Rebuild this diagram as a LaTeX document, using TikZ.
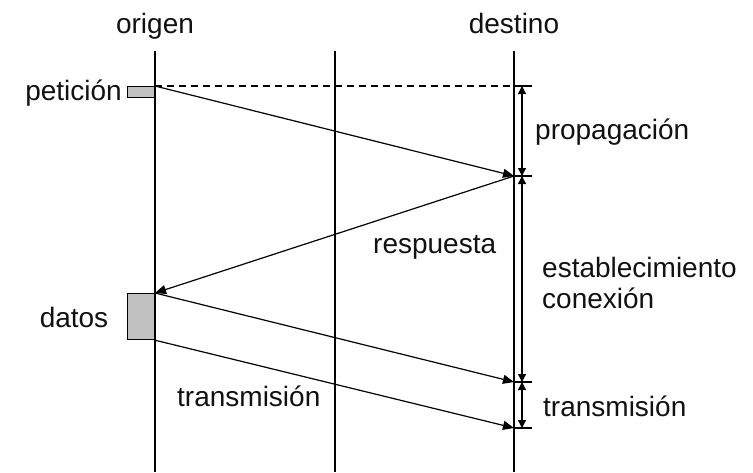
\documentclass[tikz,border=0pt]{standalone}
\usepackage{fontspec}
\setmainfont{Liberation Sans}
\usetikzlibrary{positioning,arrows.meta,calc}
\definecolor{boxgrey}{HTML}{C0C0C0}
\definecolor{ink}{HTML}{111111}

\begin{document}
\begin{tikzpicture}[x=1pt,y=-1pt,font=\fontsize{28}{31}\selectfont,text=ink,
  lbl/.style={inner sep=0,anchor=base west},
  msg/.style={line width=1.2pt,-{Triangle[length=11pt,width=9pt]}},
  lapse/.style={line width=1.2pt,{Triangle[length=8pt,width=8pt]}-{Triangle[length=8pt,width=8pt]}},
  stamp/.style={draw,line width=1.2pt,fill=boxgrey,inner sep=0,anchor=north east}]
  \useasboundingbox (0,0) rectangle (753,472);
  % time lines
  \node[inner sep=0,anchor=base] (orig) at (155,33) {origen};
  \node[inner sep=0,anchor=base] (dest) at (514,33) {destino};
  \coordinate (o0) at (155,51); \coordinate (o1) at (155,472);
  \coordinate (m0) at (335,51); \coordinate (m1) at (335,472);
  \coordinate (d0) at (514,51); \coordinate (d1) at (514,472);
  \draw[line width=1.2pt] (o0) -- (o1) (m0) -- (m1) (d0) -- (d1);
  % boxes at the origin
  \node[stamp,minimum width=27pt,minimum height=11pt] (pet) at (155,86) {};
  \node[stamp,minimum width=27pt,minimum height=46pt] (dat) at (155,293) {};
  \node[lbl,anchor=base east] (petlbl) at (122,100) {petición};
  \node[lbl,anchor=base] (datlbl) at (74,327) {datos};
  % arrival points
  \coordinate (t0) at (514,86);  \coordinate (t1) at (514,176);
  \coordinate (t2) at (514,382); \coordinate (t3) at (514,428);
  \draw[line width=1.2pt,dash pattern=on 7pt off 5pt] (pet.north east) -- (t0);
  \draw[msg] (pet.north east) -- (t1);
  \draw[msg] (t1) -- (dat.north east);
  \draw[msg] (dat.north east) -- (t2);
  \draw[msg] (dat.south east) -- (t3);
  \foreach \t in {t0,t1,t2,t3}
    \draw[line width=1.2pt] (\t) -- ++(18,0);
  % intervals
  \draw[lapse] ($(t0)+(8,0)$) -- ($(t1)+(8,0)$);
  \draw[lapse] ($(t1)+(8,0)$) -- ($(t2)+(8,0)$);
  \draw[lapse] ($(t2)+(8,0)$) -- ($(t3)+(8,0)$);
  \node[lbl] (prop) at (535,139) {propagación};
  \node[lbl] (resp) at (373,253) {respuesta};
  \node[lbl] (estab) at (542,277) {establecimiento};
  \node[lbl] (conex) at (542,308) {conexión};
  \node[lbl] (trans) at (177,406) {transmisión};
  \node[lbl] (transd) at (543,416) {transmisión};
\end{tikzpicture}
\end{document}
